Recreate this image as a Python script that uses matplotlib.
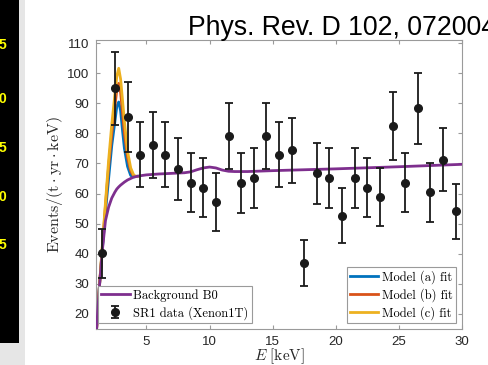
import matplotlib
matplotlib.use("Agg")
import matplotlib.pyplot as plt
from matplotlib.patches import Rectangle

plt.rcParams['mathtext.fontset'] = 'cm'

# ---- data ----
E_data = [1.5, 2.5, 3.5, 4.5, 5.5, 6.5, 7.5, 8.5, 9.5, 10.5, 11.5, 12.5, 13.5, 14.5,
          15.5, 16.5, 17.5, 18.5, 19.5, 20.5, 21.5, 22.5, 23.5, 24.5, 25.5, 26.5,
          27.5, 28.5, 29.5]
rate_data = [40.1, 94.9, 85.4, 72.9, 76.0, 72.9, 68.2, 63.6, 62.0, 57.2, 79.1, 63.4,
             65.1, 79.1, 72.9, 74.4, 37.0, 66.7, 65.1, 52.6, 65.1, 62.0, 58.9, 82.3,
             63.6, 88.4, 60.4, 71.3, 54.1]
rate_err = [8.0, 12.2, 11.6, 10.7, 11.0, 10.7, 10.3, 9.9, 9.9, 9.5, 11.1, 9.9, 10.0,
            11.1, 10.7, 10.8, 7.6, 10.2, 10.0, 9.1, 10.0, 9.9, 9.6, 11.3, 9.9, 11.8,
            9.7, 10.6, 9.2]

E_bg = [1.0, 1.25, 1.5, 1.75, 2.0, 2.25, 2.5, 2.65, 2.8, 2.95, 3.1, 3.25, 3.5, 3.75,
        4.0, 4.5, 5, 6, 7, 8, 8.5, 9, 9.5, 10, 10.5, 11, 11.5, 12, 13, 15, 20, 25, 30]
bg_B0 = [12, 28, 41, 51, 55.5, 58.5, 60.5, 61.5, 62.2, 62.8, 63.3, 63.8, 64.5, 65.0,
         65.5, 65.9, 66.2, 66.5, 66.7, 66.9, 67.2, 67.9, 68.5, 68.8, 68.5, 67.8, 67.4,
         67.3, 67.3, 67.6, 68.2, 68.9, 69.7]

E_model = [1.0, 1.25, 1.5, 1.75, 2.0, 2.25, 2.5, 2.65, 2.8, 2.95, 3.1, 3.25, 3.5, 3.75,
           4.0, 4.25]
model_a = [12, 28, 41.5, 54, 65, 76, 84, 89, 90.4, 87.5, 81, 75, 69, 66, 65.5, 65.7]
model_b = [12, 28, 42, 56, 69, 80, 89, 94.5, 96.6, 93.5, 87, 80, 72, 67.5, 65.7, 65.7]
model_c = [12, 28, 42.5, 57, 71, 83, 93, 99, 101.6, 98, 91, 84, 74, 68.5, 66, 65.7]

x_ticks = [5, 10, 15, 20, 25, 30]
y_ticks = [20, 30, 40, 50, 60, 70, 80, 90, 100, 110]

# ---- figure ----
W, H = 489, 365
fig = plt.figure(figsize=(W / 100, H / 100), dpi=100)
fig.patch.set_facecolor('white')

# slide decorations on the left
fig.add_artist(Rectangle((0, 0), 25 / W, 1, transform=fig.transFigure,
                         facecolor='#e6e6e6', edgecolor='none', zorder=0))
fig.add_artist(Rectangle((0, 1 - 343 / H), 19 / W, 343 / H, transform=fig.transFigure,
                         facecolor='black', edgecolor='none', zorder=0))
for ypx, s in [(45, '5'), (99, '0'), (148, '5'), (197, '0'), (245, '5')]:
    fig.text(6 / W, 1 - ypx / H, s, color='#ffff00', fontsize=10, fontweight='bold',
             ha='right', va='center', family='Liberation Sans')

fig.text(188 / W, 1 - 35 / H, 'Phys. Rev. D 102, 072004', fontsize=19.2,
         family='Liberation Sans', ha='left', va='baseline', color='black')

ax = fig.add_axes([96 / W, 1 - 329 / H, (462 - 96) / W, (329 - 40) / H])

c_a, c_b, c_c, c_bg = '#0072BD', '#D95319', '#EDB120', '#7E2F8E'
la, = ax.plot(E_model, model_a, color=c_a, lw=2, zorder=2)
lb, = ax.plot(E_model, model_b, color=c_b, lw=2, zorder=2)
lc, = ax.plot(E_model, model_c, color=c_c, lw=2, zorder=2)
lbg, = ax.plot(E_bg, bg_B0, color=c_bg, lw=2, zorder=3)
eb = ax.errorbar(E_data, rate_data, yerr=rate_err, fmt='o', color='#1a1a1a',
                 ms=5.5, elinewidth=1.3, capsize=3, capthick=1.3, zorder=4)

ax.set_xlim(1, 30)
ax.set_ylim(15, 111)
ax.set_xticks(x_ticks)
ax.set_yticks(y_ticks)

spine_c = '#9a9a9a'
for sp in ax.spines.values():
    sp.set_color(spine_c)
    sp.set_linewidth(0.8)
ax.tick_params(direction='in', length=3, width=0.8, color=spine_c,
               top=True, right=True, labelsize=9.5, labelcolor='#262626')
ax.tick_params(axis='y', pad=5)
ax.tick_params(axis='x', pad=5)
for lab in ax.get_xticklabels() + ax.get_yticklabels():
    lab.set_family('Liberation Sans')

ax.set_ylabel(r'$\mathrm{Events}/(\mathrm{t}\cdot\mathrm{yr}\cdot\mathrm{keV})$',
              fontsize=11.5, color='#262626')
ax.yaxis.set_label_coords(-(96 - 65) / 366, 0.5)
ax.set_xlabel(r'$E\ [\mathrm{keV}]$', fontsize=11, color='#262626')
ax.xaxis.set_label_coords(0.5, -(346.5 - 329) / 289)

leg_kw = dict(prop={'family': 'cmr10', 'size': 9}, frameon=True, fancybox=False,
              edgecolor='#9a9a9a', framealpha=1, borderaxespad=0, borderpad=0.25,
              handletextpad=0.3, labelspacing=0.35, handlelength=2.3)
leg1 = ax.legend([lbg, eb], ['Background B0', 'SR1 data (Xenon1T)'],
                 loc='lower left', bbox_to_anchor=(0.005, 0.021), **leg_kw)
leg1.get_frame().set_linewidth(0.8)
ax.add_artist(leg1)
leg2 = ax.legend([la, lb, lc], ['Model (a) fit', 'Model (b) fit', 'Model (c) fit'],
                 loc='lower right', bbox_to_anchor=(0.984, 0.021), **leg_kw)
leg2.get_frame().set_linewidth(0.8)

fig.savefig('out.png', dpi=100, facecolor=fig.get_facecolor())
